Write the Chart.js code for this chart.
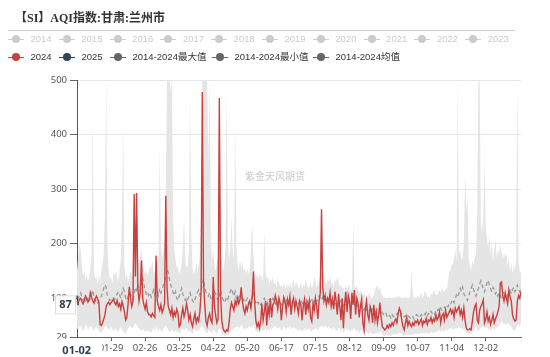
<!DOCTYPE html>
<html><head><meta charset="utf-8">
<script src="https://cdn.jsdelivr.net/npm/chart.js@4.4.1/dist/chart.umd.min.js"></script>
<style>
html,body{margin:0;padding:0;background:#fff;width:550px;height:357px;overflow:hidden}
#wrap{position:relative;width:550px;height:357px}
canvas{position:absolute;left:0;top:0}
#title{position:absolute;left:15px;top:9px;font:bold 12px "Liberation Serif","Noto Sans CJK SC",serif;color:#333;white-space:nowrap;line-height:18px}
#rule{position:absolute;left:8px;top:30px;width:507px;height:1px;background:#ccc}
.lg{position:absolute;height:12px;font:9.5px "Liberation Sans","Noto Sans CJK SC",sans-serif;line-height:12px;white-space:nowrap}
.lg .ln{position:absolute;left:0;top:5.5px;width:16px;height:1.3px}
.lg .dt{position:absolute;left:4px;top:2px;width:8px;height:8px;border-radius:50%}
.lg span{position:absolute;left:22.5px;top:0}
#wm{position:absolute;left:245px;top:170px;font:10px "Noto Sans CJK SC",sans-serif;color:#ccc;white-space:nowrap;line-height:12px}
</style></head>
<body><div id="wrap">
<canvas id="c" width="550" height="357"></canvas>
<div id="title">【SI】AQI指数:甘肃:兰州市</div>
<div id="rule"></div>
<div id="wm">紫金天风期货</div>
</div>
<script>
const monthDays = [31,29,31,30,31,30,31,31,30,31,30,31];
const tickLabels = ["01-29","02-26","03-25","04-22","05-20","06-17","07-15","08-12","09-09","10-07","11-04","12-02"];
const yTicks = [29,100,200,300,400,500];
const pointerDate = "01-02";
const pointerValue = 87;
const legendYears = ["2014","2015","2016","2017","2018","2019","2020","2021","2022","2023"];
const legendMain = ["2024","2025","2014-2024最大值","2014-2024最小值","2014-2024均值"];

const s2024 = [
95,92,98,100,94,90,96,104,99,93,97,110,102,95,91,99,104,98,92,52,50,55,62,70,85,90,93,88,92,95,98,
92,88,96,85,90,80,94,86,75,60,65,90,121,100,85,95,291,140,293,120,95,110,169,100,88,80,92,75,70,
70,66,72,68,65,178,95,85,78,88,74,80,90,288,120,85,78,70,82,65,75,68,80,72,48,52,70,82,66,75,90,
78,60,70,55,48,62,72,55,64,58,75,110,478,130,90,58,50,65,72,60,55,139,85,68,55,62,467,110,60,45,
40,38,42,40,55,80,92,85,78,95,88,100,90,98,120,95,80,72,85,78,90,95,82,100,149,95,60,48,55,45,58,
90,60,75,95,50,85,70,100,65,88,92,105,95,80,100,90,60,85,102,95,75,98,88,103,70,92,100,80,95,85,
72,95,88,60,85,98,70,92,80,95,65,58,90,78,100,85,62,95,110,263,120,95,105,88,100,92,110,85,98,80,112,
95,70,108,85,60,100,45,90,112,75,105,95,62,110,88,115,70,100,92,65,85,98,55,42,80,95,70,60,85,78,55,
88,60,75,55,70,92,65,48,45,42,44,50,46,52,48,55,50,58,62,55,72,82,75,60,48,42,55,65,50,58,
52,48,55,50,58,55,60,52,57,62,50,58,55,63,52,60,58,65,55,62,58,70,60,65,75,55,68,72,60,78,65,
70,75,80,72,78,65,82,75,80,85,70,78,65,82,60,45,42,42,44,42,58,75,85,90,60,55,78,85,90,97,
55,62,75,58,65,52,60,70,55,62,68,75,85,128,130,105,95,110,100,90,115,102,95,70,62,58,60,95,105,100,112
];
const s2025 = [105,87];
const sMax = [
150,175,201,190,160,140,150,135,145,130,140,155,180,440,150,135,140,125,145,130,150,165,180,260,500,200,150,135,140,125,150,
140,150,140,130,150,170,250,420,160,135,145,130,140,150,140,165,291,190,293,180,165,175,190,170,155,145,150,140,150,
160,155,170,145,150,190,165,180,377,200,170,190,220,300,500,500,500,480,500,250,190,170,155,160,145,150,165,190,250,170,155,
160,190,480,210,155,145,150,165,150,160,180,250,500,500,500,500,500,350,500,210,170,190,160,150,165,180,467,190,165,150,
160,190,480,210,170,190,250,190,170,420,200,165,150,170,155,165,150,155,145,155,145,150,190,243,180,150,140,145,135,145,140,
140,130,220,150,135,140,125,135,130,140,125,130,120,135,130,120,125,118,130,120,118,125,120,130,118,125,135,120,130,125,
118,120,130,118,125,120,135,125,118,120,130,118,125,140,130,120,125,135,140,263,150,140,130,125,135,130,140,125,130,120,135,
130,140,130,120,125,118,120,112,125,118,120,125,112,118,249,122,118,125,115,110,115,110,105,110,100,105,100,110,105,100,102,
105,115,120,125,115,120,110,105,100,102,100,98,100,103,100,98,100,102,100,104,100,105,100,102,99,100,103,100,98,100,
105,152,110,100,102,100,104,100,105,110,100,105,115,110,100,105,100,110,105,115,110,108,105,110,115,110,120,115,110,120,115,
130,148,150,165,160,175,190,165,500,180,190,170,175,200,326,260,289,175,160,150,170,160,175,180,250,500,500,240,220,250,
357,230,210,190,216,180,200,170,190,210,175,190,180,200,185,170,183,175,183,160,175,150,165,145,160,150,175,500,165,150,145
];
const sMin = [
45,42,48,50,44,40,46,52,48,42,45,50,47,44,40,46,50,45,42,38,36,40,44,48,50,46,42,45,48,44,40,
42,45,40,38,44,48,42,40,36,35,40,45,48,50,46,44,50,55,52,48,45,42,40,44,42,38,40,42,38,
40,36,42,45,40,48,44,40,45,42,38,44,48,50,46,42,40,38,44,40,36,42,38,40,35,38,42,45,40,44,46,
42,38,40,36,35,40,44,38,42,40,45,48,50,46,40,38,35,40,42,38,36,44,40,38,35,40,46,42,38,34,
32,30,33,32,36,40,45,42,44,48,46,50,45,48,52,48,44,42,46,44,48,50,45,48,52,46,40,38,42,36,40,
44,40,42,46,38,44,40,46,42,45,48,50,46,44,48,45,40,44,48,46,42,48,45,50,42,46,48,44,46,42,
40,44,42,38,42,46,40,44,42,46,40,38,44,42,46,44,40,46,48,50,48,46,50,48,45,48,44,46,42,48,44,
42,40,46,44,38,44,36,42,46,40,44,42,38,44,40,46,38,42,40,36,40,42,36,34,38,40,36,34,38,36,34,
36,34,38,35,36,40,38,34,32,30,32,33,30,32,30,34,32,35,34,33,36,38,36,34,32,30,33,35,32,34,
33,32,35,33,36,34,36,33,35,38,34,36,35,38,34,36,35,38,36,38,36,40,38,40,42,38,40,42,38,44,40,
42,44,46,44,45,42,46,44,45,48,44,46,42,46,40,36,35,34,35,34,38,42,46,48,42,40,44,46,48,50,
44,46,48,42,45,40,44,46,42,44,46,48,50,55,58,56,52,54,50,55,52,50,48,44,42,40,45,50,52,48,55
];
const sMean = [
98,100,105,110,102,96,100,95,98,102,96,100,108,115,100,95,98,92,96,100,104,110,118,125,120,105,100,96,98,102,100,
98,104,108,112,106,100,110,118,112,100,96,104,110,108,102,98,106,120,115,125,118,112,130,137,125,115,108,112,105,
110,102,108,115,106,120,112,105,118,110,115,125,130,140,154,148,135,125,118,110,105,112,100,96,104,110,118,108,100,96,102,
98,104,110,100,96,92,98,104,110,115,106,112,125,135,120,112,108,104,110,100,96,104,112,108,100,96,105,115,104,98,
92,96,102,98,106,112,118,110,104,112,100,96,102,108,100,94,98,92,96,100,94,90,96,104,110,98,92,96,90,94,88,
92,96,100,94,88,94,98,92,96,100,94,90,96,92,98,94,88,92,96,90,94,98,92,88,94,90,96,92,88,94,
90,94,98,92,88,94,90,96,92,88,94,98,92,96,100,94,98,104,100,96,102,106,100,96,92,98,94,90,96,92,88,
94,90,86,92,96,90,86,92,88,84,90,94,88,92,96,90,86,82,88,84,80,86,82,78,84,80,76,82,78,74,80,
76,72,78,80,76,72,78,74,70,68,72,66,70,68,64,70,66,68,72,70,74,70,68,72,70,66,68,64,68,66,
64,68,66,62,66,70,68,64,66,70,68,72,70,74,68,72,70,76,72,74,70,78,76,80,76,82,78,80,84,80,86,
84,90,88,94,98,92,100,106,102,110,118,112,120,108,104,100,96,104,112,118,124,116,110,104,112,118,126,132,124,118,
112,120,128,133,124,118,112,120,116,108,112,104,110,106,100,108,112,104,98,106,110,114,108,116,120,112,118,124,116,112,118
];

// categories MM-DD for the leap year
const categories = [];
monthDays.forEach((n, m) => { for (let d = 1; d <= n; d++) categories.push(String(m+1).padStart(2,'0') + '-' + String(d).padStart(2,'0')); });

const RED = '#c9403f', NAVY = '#2f4554', GREY = '#666';

// legend (HTML)
const wrap = document.getElementById('wrap');
function addLegend(label, x, y, iconColor, textColor) {
  const d = document.createElement('div');
  d.className = 'lg'; d.style.left = x + 'px'; d.style.top = y + 'px';
  d.innerHTML = '<i class="ln" style="background:' + iconColor + '"></i><i class="dt" style="background:' + iconColor + '"></i><span style="color:' + textColor + '">' + label + '</span>';
  wrap.appendChild(d);
}
legendYears.forEach((l, i) => addLegend(l, 8 + i * 50.8, 33, '#ccc', '#ccc'));
const mainX = [8, 59, 110, 212, 313];
const mainC = [RED, NAVY, GREY, GREY, GREY];
legendMain.forEach((l, i) => addLegend(l, mainX[i], 51, mainC[i], '#333'));

const pointerPlugin = {
  id: 'pointer',
  afterDraw(chart) {
    const ctx = chart.ctx, xs = chart.scales.x, ys = chart.scales.y;
    ctx.save();
    const py = ys.getPixelForValue(pointerValue);
    ctx.fillStyle = '#fff'; ctx.strokeStyle = '#ddd'; ctx.lineWidth = 1;
    ctx.fillRect(55.5, py - 9.5, 20, 18); ctx.strokeRect(55.5, py - 9.5, 20, 18);
    ctx.fillStyle = '#2c3e50'; ctx.font = 'bold 11px "Noto Sans", sans-serif';
    ctx.textAlign = 'center'; ctx.textBaseline = 'middle';
    ctx.fillText(String(pointerValue), 65.5, py - 0.5);
    const px = xs.getPixelForValue(categories.indexOf(pointerDate));
    ctx.fillStyle = '#fff';
    ctx.fillRect(px - 26, xs.bottom - 18, 50, 18);
    ctx.fillStyle = '#2c3e50';
    ctx.fillText(pointerDate, px - 1.5, 350.5);
    ctx.restore();
  }
};

new Chart(document.getElementById('c'), {
  type: 'line',
  data: {
    labels: categories,
    datasets: [
      {label: '2014-2024最大值', data: sMax, borderWidth: 0, borderColor: 'rgba(0,0,0,0)', pointRadius: 0, fill: '+1', backgroundColor: '#e5e5e5', order: 4},
      {label: '2014-2024最小值', data: sMin, borderWidth: 0, borderColor: 'rgba(0,0,0,0)', pointRadius: 0, fill: false, order: 3},
      {label: '2014-2024均值', data: sMean, borderWidth: 1.3, borderColor: '#9a9a9a', borderDash: [4, 3], pointRadius: 0, fill: false, order: 2},
      {label: '2025', data: s2025, borderWidth: 1.5, borderColor: NAVY, pointRadius: 0, fill: false, order: 1},
      {label: '2024', data: s2024, borderWidth: 1.4, borderColor: RED, pointRadius: 0, fill: false, order: 0}
    ]
  },
  options: {
    responsive: false, animation: false, devicePixelRatio: 1,
    layout: {padding: {top: 80, right: 29, left: 0, bottom: 0}},
    plugins: {legend: {display: false}, tooltip: {enabled: false}},
    elements: {line: {tension: 0}},
    scales: {
      x: {
        type: 'category',
        afterBuildTicks(scale) { scale.ticks = tickLabels.map(l => ({value: categories.indexOf(l)})); },
        afterFit(scale) { scale.height = 20; },
        grid: {drawOnChartArea: false, drawTicks: true, tickLength: 4, tickColor: '#666'},
        border: {color: '#666', width: 1},
        ticks: {autoSkip: false, maxRotation: 0, padding: 2, color: '#555', font: {size: 9.5, family: '"Noto Sans", sans-serif'}}
      },
      y: {
        type: 'linear', min: 29, max: 500,
        afterBuildTicks(scale) { scale.ticks = yTicks.map(v => ({value: v})); },
        afterFit(scale) { scale.width = 77; },
        grid: {color: c => (c.tick && c.tick.value === 29) ? 'rgba(0,0,0,0)' : '#e6e6e6', tickLength: 7, tickColor: '#666'},
        border: {color: '#555', width: 1},
        ticks: {padding: 3, color: '#555', font: {size: 9.5, family: '"Noto Sans", sans-serif'}}
      }
    }
  },
  plugins: [pointerPlugin]
});
</script>
</body></html>
